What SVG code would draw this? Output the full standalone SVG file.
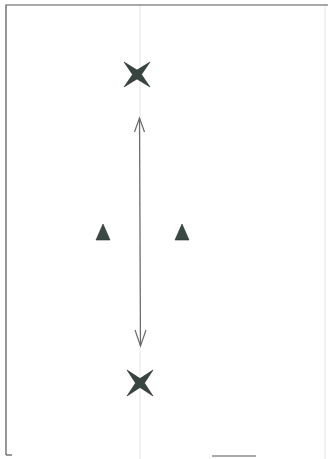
<svg xmlns="http://www.w3.org/2000/svg" width="328" height="459" viewBox="0 0 328 459">
<style>
.frame{stroke:#555;stroke-width:1.2;fill:none}
.faint{stroke:#e6e6e6;stroke-width:1;fill:none}
.star{fill:#37443f;stroke:#2a302d;stroke-width:0.6}
.tri{fill:#3b4944;stroke:#2a302d;stroke-width:0.6}
.arrow{stroke:#6a6a6a;stroke-width:1.2;fill:none}
</style>
<rect width="328" height="459" fill="#fff"/>
<g id="frame">
<path class="faint" d="M140 4 V459"/>
<path class="faint" d="M325 4 V459"/>
<path class="frame" d="M6 455 V5 H328"/>
<path class="frame" d="M212 456 H256"/>
<path class="frame" d="M6 455 H12"/>
</g>
<g id="star-top">
<path class="star" d="M124 62 L137 70 L150 62 L141.5 74.5 L150 87 L137 79 L124 87 L132.5 74.5 Z"/>
</g>
<g id="star-bottom">
<path class="star" d="M127 370 L140 378.5 L153 370 L144.5 383 L153 396 L140 387.5 L127 396 L135.5 383 Z"/>
</g>
<g id="triangle-left">
<path class="tri" d="M103 224 L110 240 L96 240 Z"/>
</g>
<g id="triangle-right">
<path class="tri" d="M182 224 L189 240 L175 240 Z"/>
</g>
<g id="connectors">
<path class="arrow" d="M139.5 118 L140.5 346"/>
<path class="arrow" d="M134.5 132 L139.5 118 L144.5 132"/>
<path class="arrow" d="M135 330 L140.5 346 L146 330"/>
</g>
</svg>
